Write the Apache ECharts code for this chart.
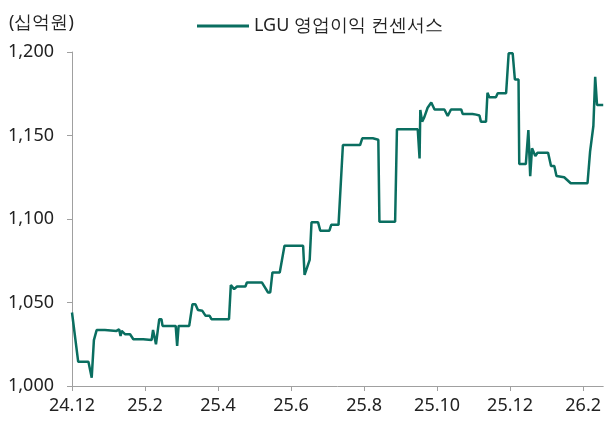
<!DOCTYPE html>
<html>
<head>
<meta charset="utf-8">
<script src="https://cdn.jsdelivr.net/npm/echarts@6/dist/echarts.min.js"></script>
<style>
  html, body { margin: 0; padding: 0; background: #fff; }
  #chart { width: 604px; height: 421px; }
</style>
</head>
<body>
<div id="chart"></div>
<script>
// x: months since 2024-12 (fractional), y: consensus in 십억원
const xMonths = [
	0, 0.17, 0.45, 0.54, 0.60, 0.63, 0.675, 0.90, 0.94, 1.22,
	1.29, 1.33, 1.36, 1.45, 1.59, 1.68, 1.95, 2.18, 2.22, 2.30,
	2.39, 2.45, 2.48, 2.84, 2.88, 2.92, 3.21, 3.30, 3.38, 3.45,
	3.57, 3.66, 3.77, 3.82, 4.30, 4.35, 4.44, 4.52, 4.75, 4.79,
	5.20, 5.37, 5.43, 5.49, 5.69, 5.82, 6.33, 6.37, 6.51, 6.56,
	6.74, 6.80, 7.05, 7.10, 7.30, 7.42, 7.89, 7.95, 8.24, 8.39,
	8.42, 8.85, 8.90, 9.47, 9.52, 9.54, 9.59, 9.65, 9.74, 9.84,
	9.93, 10.20, 10.29, 10.38, 10.66, 10.70, 10.97, 11.07, 11.16, 11.20,
	11.34, 11.38, 11.43, 11.61, 11.66, 11.89, 11.96, 12.07, 12.13, 12.23,
	12.25, 12.43, 12.50, 12.55, 12.60, 12.69, 12.75, 13.04, 13.12, 13.21,
	13.27, 13.32, 13.48, 13.66, 14.12, 14.16, 14.19, 14.28, 14.33, 14.38,
	14.55
];
const consensus = [
	1044, 1014.5, 1014.5, 1005, 1027.5, 1028, 1033.5, 1033.5, 1033, 1033,
	1034, 1030, 1033, 1031, 1031, 1028, 1028, 1027.5, 1033.5, 1025,
	1040, 1040, 1036, 1036, 1024, 1036, 1036, 1049, 1049, 1045.5,
	1045, 1042, 1042, 1040, 1040, 1060.5, 1058, 1059.6, 1059.6, 1062,
	1062, 1056, 1056, 1068, 1068, 1084, 1084, 1066.5, 1075.5, 1098,
	1098, 1093, 1093, 1096.5, 1096.5, 1144.3, 1144.3, 1148.3, 1148.3, 1147.5,
	1098.4, 1098.4, 1153.7, 1153.7, 1136.3, 1165.3, 1158.3, 1161, 1166.6, 1169.8,
	1165.6, 1165.6, 1161.7, 1165.6, 1165.6, 1162.9, 1162.9, 1162.5, 1162, 1158.3,
	1158.3, 1175.6, 1172.9, 1172.9, 1175.3, 1175.3, 1199.2, 1199.2, 1183.6, 1183.6,
	1132.9, 1132.9, 1153.3, 1125.7, 1142.3, 1137.7, 1139.7, 1139.7, 1131.7, 1131.7,
	1125.7, 1125, 1125, 1121.4, 1121.4, 1122.5, 1140.3, 1155.7, 1185.2, 1168.3,
	1168.3
];
const xTickLabels = ['24.12', '25.2', '25.4', '25.6', '25.8', '25.10', '25.12', '26.2'];
const yTicks = [1000, 1050, 1100, 1150, 1200];

const chart = echarts.init(document.getElementById('chart'));
const axisColor = '#a0a0a0';
const font = "'Noto Sans', sans-serif";

chart.setOption({
	animation: false,
	title: {
		text: '(십억원)',
		left: 4,
		top: 9,
		textStyle: { fontFamily: font, fontSize: 18, fontWeight: 'normal', color: '#222' }
	},
	legend: {
		left: 192,
		top: 12,
		icon: 'rect',
		itemWidth: 52,
		itemHeight: 3,
		itemGap: 5,
		textStyle: { fontFamily: font, fontSize: 18, color: '#222' },
		data: ['LGU 영업이익 컨센서스']
	},
	grid: { left: 72, right: 0, top: 52, bottom: 35, containLabel: false },
	xAxis: {
		type: 'value',
		min: 0,
		max: 14.55,
		interval: 2,
		axisLine: { lineStyle: { color: axisColor } },
		axisTick: { length: 5, lineStyle: { color: axisColor } },
		splitLine: { show: false },
		axisLabel: {
			fontFamily: font, fontSize: 18, color: '#222', margin: 11,
			showMaxLabel: false,
			formatter: v => xTickLabels[Math.round(v / 2)] || ''
		}
	},
	yAxis: {
		type: 'value',
		min: yTicks[0],
		max: yTicks[yTicks.length - 1],
		interval: 50,
		axisLine: { show: true, lineStyle: { color: axisColor } },
		axisTick: { show: true, length: 5, lineStyle: { color: axisColor } },
		splitLine: { show: false },
		axisLabel: {
			fontFamily: font, fontSize: 18, color: '#222', margin: 18,
			formatter: v => v.toLocaleString('en-US')
		}
	},
	series: [{
		name: 'LGU 영업이익 컨센서스',
		type: 'line',
		symbol: 'none',
		data: xMonths.map((m, i) => [m, consensus[i]]),
		lineStyle: { color: '#0a6e60', width: 2.5 },
		itemStyle: { color: '#0a6e60' }
	}]
});
</script>
</body>
</html>
